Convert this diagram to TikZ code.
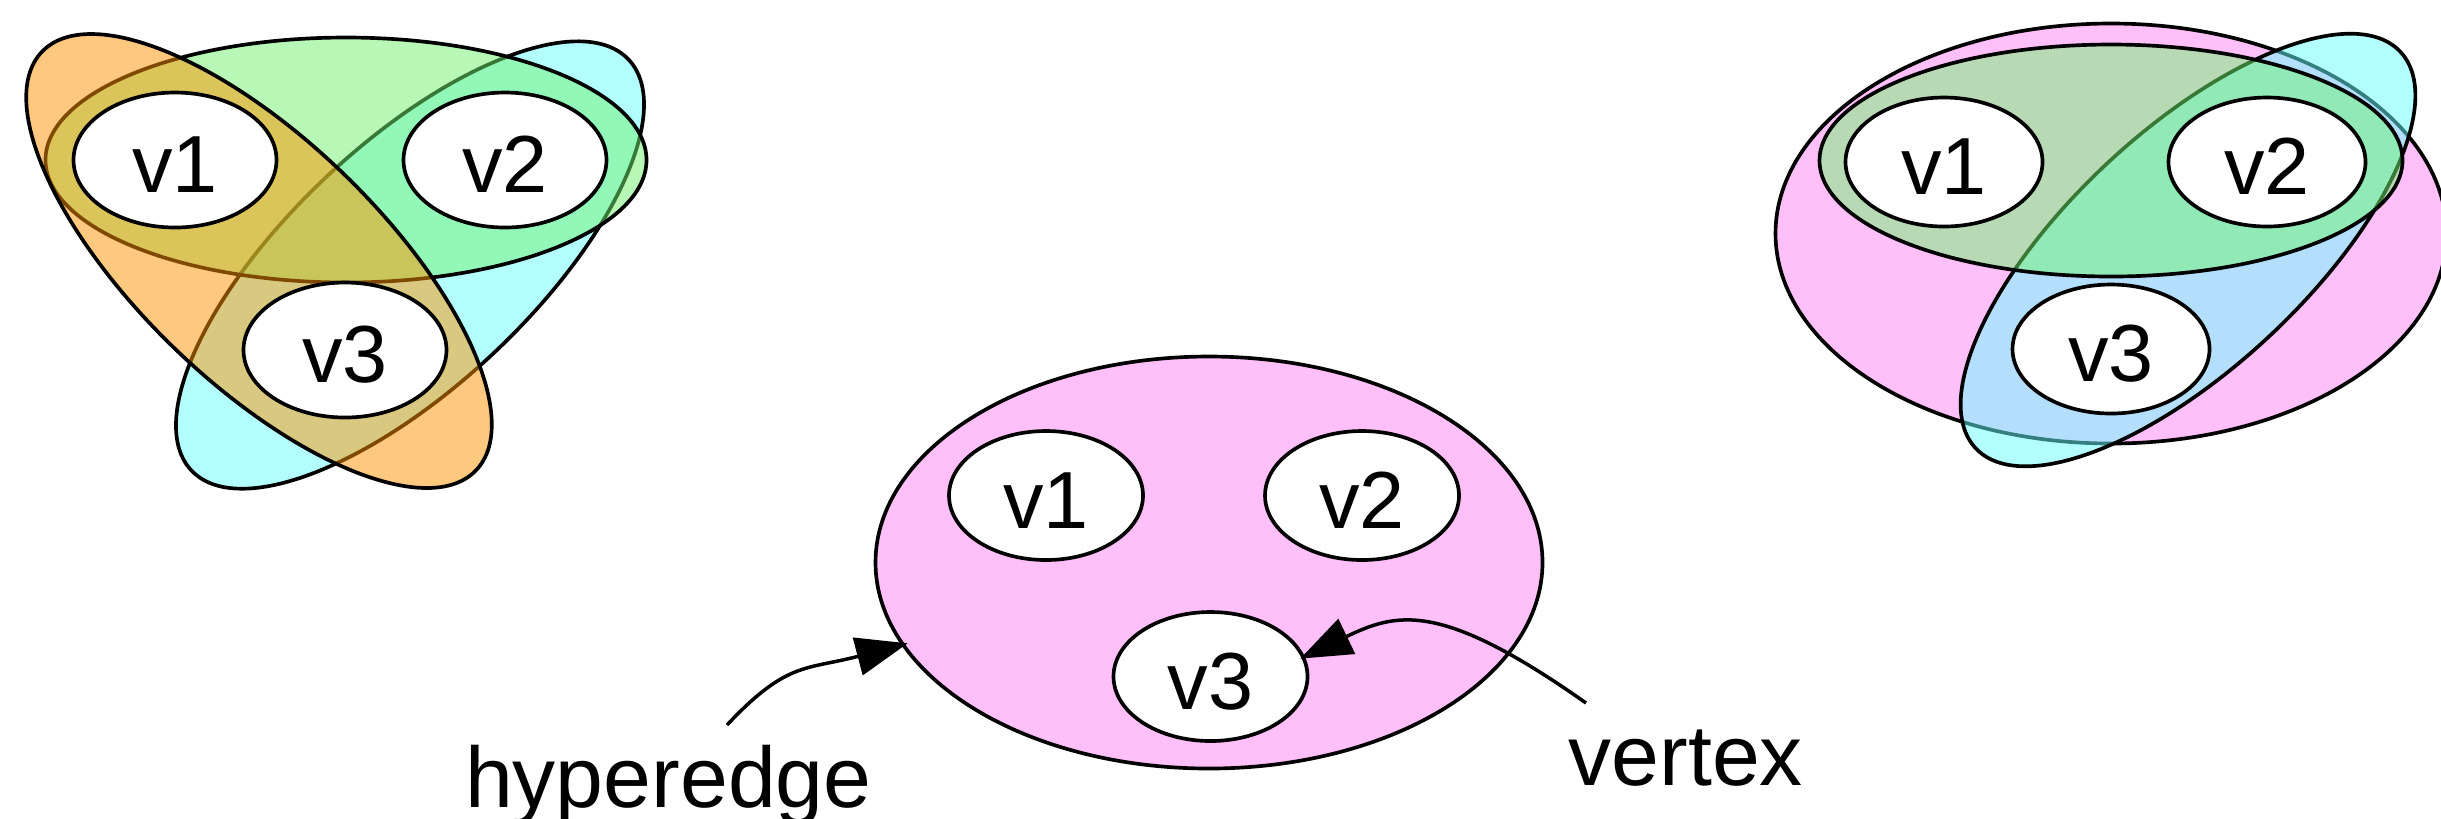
\documentclass[tikz,border=0pt]{standalone}
\usepackage{fontspec}
\setmainfont{Liberation Sans}
\usetikzlibrary{shapes.geometric,arrows.meta}
\definecolor{edgeOrange}{RGB}{255,147,0}
\definecolor{edgeGreen}{RGB}{113,243,113}
\definecolor{edgeCyan}{RGB}{105,255,255}
\definecolor{edgePink}{RGB}{255,129,245}

\begin{document}
\begin{tikzpicture}[x=0.3pt,y=-0.3pt,
  hedge/.style={ellipse, draw=black, line width=1.1pt, fill opacity=0.5, inner sep=0pt},
  vtx/.style={ellipse, draw=black, fill=white, line width=1.1pt, inner sep=0pt,
    font=\fontsize{24.3pt}{28pt}\selectfont, text height=19.5pt, text depth=0pt},
  tag/.style={inner sep=0pt, anchor=base west, font=\fontsize{25.8pt}{30pt}\selectfont},
  pointer/.style={line width=1.05pt, -{Triangle[length=15.5pt,width=11.5pt]}}
]
\fill[white] (0,0) rectangle (2441,818);
\useasboundingbox (0,0) rectangle (2441,818);
\clip (0,0) rectangle (2441,818);

% left: three pairwise hyperedges
\node[hedge, fill=edgeCyan, rotate=43.2, minimum width=180pt, minimum height=72.9pt] (lcyan) at (410,265) {};
\node[hedge, fill=edgeGreen, minimum width=180.3pt, minimum height=73.5pt] (lgreen) at (346,160) {};
\node[hedge, fill=edgeOrange, rotate=-44, minimum width=180.9pt, minimum height=72.9pt] (lorange) at (259,261) {};
\node[vtx, minimum width=60.9pt, minimum height=40.5pt] (lv1) at (175,160) {v1};
\node[vtx, minimum width=60.9pt, minimum height=40.5pt] (lv2) at (505,160) {v2};
\node[vtx, minimum width=60.9pt, minimum height=40.5pt] (lv3) at (345,350) {v3};

% middle: a single hyperedge with its three vertices
\node[hedge, fill=edgePink, minimum width=200.1pt, minimum height=123.6pt] (mpink) at (1209,562.5) {};
\node[vtx, minimum width=58.2pt, minimum height=38.7pt] (mv1) at (1046,495.5) {v1};
\node[vtx, minimum width=58.2pt, minimum height=38.7pt] (mv2) at (1362,495.5) {v2};
\node[vtx, minimum width=58.2pt, minimum height=38.7pt] (mv3) at (1210.5,676.5) {v3};

% annotations
\node[tag] (hlabel) at (464.5,807) {hyperedge};
\node[tag] (vlabel) at (1568,785) {vertex};
\coordinate (hstart) at (727,725);
\coordinate (vstart) at (1586,703);
\draw[pointer, shorten >=-2pt] (hstart) .. controls +(60,-64) and +(-95,25) .. (mpink.195);
\draw[pointer, shorten >=-1.5pt] (vstart) .. controls +(-146,-103) and +(92,-44) .. (mv3.12);

% right: nested hyperedges
\node[hedge, fill=edgePink, minimum width=201.3pt, minimum height=126pt] (rpink) at (2111,233.5) {};
\node[hedge, fill=edgeCyan, rotate=43, minimum width=174.3pt, minimum height=71.1pt] (rcyan) at (2188,250) {};
\node[hedge, fill=edgeGreen, minimum width=174.9pt, minimum height=69.6pt] (rgreen) at (2111,160.5) {};
\node[vtx, minimum width=59.1pt, minimum height=38.7pt] (rv1) at (1944,162) {v1};
\node[vtx, minimum width=59.1pt, minimum height=38.7pt] (rv2) at (2267,162) {v2};
\node[vtx, minimum width=59.1pt, minimum height=38.7pt] (rv3) at (2111,349) {v3};
\end{tikzpicture}
\end{document}
